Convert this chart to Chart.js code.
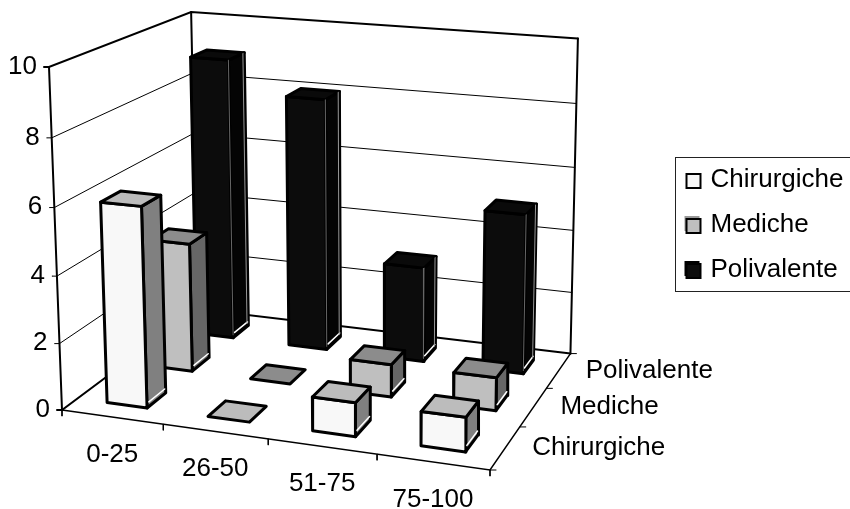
<!DOCTYPE html>
<html>
<head>
<meta charset="utf-8">
<style>
  html, body { margin: 0; padding: 0; background: #fff; }
  canvas { display: block; }
</style>
<script src="https://cdn.jsdelivr.net/npm/chart.js@4"></script>
</head>
<body>
<canvas id="chart" width="850" height="509"></canvas>
<script>
const categories = ['0-25', '26-50', '51-75', '75-100'];
const seriesNames = ['Chirurgiche', 'Mediche', 'Polivalente'];
const chirurgiche = [6, 0, 1, 1];
const mediche = [4, 0, 1, 1];
const polivalente = [9, 8, 3, 5];
const valueTicks = [0, 2, 4, 6, 8, 10];

const seriesValues = [chirurgiche, mediche, polivalente];
// front, side, top
const seriesColors = [
    ['#f8f8f8', '#808080', '#bcbcbc'],
    ['#bfbfbf', '#666666', '#8c8c8c'],
    ['#0c0c0c', '#040404', '#0a0a0a']
];
const labelFont = '26px "Liberation Sans"';

// perspective camera of the 3D box, u = category, w = series, v = value
function project(u, w, v) {
    const U = u / categories.length, W = w / seriesNames.length, V = v / 10;
    const d = 1 - 0.07 * U + 0.1625 * W - 0.04 * V;
    return {
        x: (62 + 393.7 * U + 167.5 * W - 14.96 * V) / d,
        y: (410 + 27.1 * U - 50.8 * W - 345.7 * V) / d
    };
}

const datasets = [];

function addLine(points, color, width) {
    datasets.push({
        data: points,
        showLine: true,
        fill: false,
        borderColor: color,
        borderWidth: width,
        pointRadius: 0,
        tension: 0,
        clip: false,
        borderCapStyle: 'round'
    });
}

function addFace(points, color, width) {
    datasets.push({
        data: points.concat([points[0], points[1]]),
        showLine: true,
        fill: 'shape',
        backgroundColor: color,
        borderColor: '#000',
        borderWidth: width,
        pointRadius: 0,
        tension: 0,
        clip: false,
        borderJoinStyle: 'round'
    });
}

// walls and floor
const maxU = categories.length, maxW = seriesNames.length;
valueTicks.forEach(v => {
    const a = project(0, 0, v);
    const edge = v === 0 ? 2 : v === 10 ? 2 : 1;
    addLine([{x: a.x - 5, y: a.y}, a, project(0, maxW, v), project(maxU, maxW, v)], '#000', edge);
});
addLine([project(0, 0, 0), project(0, 0, 10)], '#000', 2);
addLine([project(0, maxW, 0), project(0, maxW, 10)], '#000', 2);
addLine([project(maxU, maxW, 0), project(maxU, maxW, 10)], '#000', 2);
addLine([project(0, 0, 0), project(maxU, 0, 0), project(maxU, maxW, 0)], '#000', 1.5);
for (let i = 0; i <= maxU; i++) {
    const a = project(i, 0, 0);
    addLine([a, {x: a.x, y: a.y + 6}], '#000', 1);
}
for (let s = 0; s <= maxW; s++) {
    const a = project(maxU, s, 0);
    addLine([a, {x: a.x + 6, y: a.y}], '#000', 1);
}

// bars, back row first
for (let s = maxW - 1; s >= 0; s--) {
    seriesValues[s].forEach((value, i) => {
        const u1 = i + 0.3, u2 = i + 0.7, w1 = s + 0.3, w2 = s + 0.7;
        const [front, side, top] = seriesColors[s];
        if (value > 0) {
            addFace([project(u2, w1, 0), project(u2, w2, 0), project(u2, w2, value), project(u2, w1, value)], side, 3);
            addFace([project(u1, w1, 0), project(u2, w1, 0), project(u2, w1, value), project(u1, w1, value)], front, 3);
        }
        addFace([project(u1, w1, value), project(u2, w1, value), project(u2, w2, value), project(u1, w2, value)], top, 3);
        if (value > 0) {
            addLine([project(u2, w1 + 0.04, 0.14), project(u2, w2 - 0.02, 0.14)], '#fff', 1.5);
        }
        if (s === 2) {
            addLine([project(u2, w1, value), project(u2, w1, 0.1)], '#666', 1);
            addLine([project(u2, w2 - 0.035, value), project(u2, w2 - 0.035, 0.1)], '#999', 1);
        }
    });
}
datasets.reverse();

// legend keys with their small offset shadow
function legendKey(s) {
    const c = document.createElement('canvas');
    c.width = 24;
    c.height = 24;
    const g = c.getContext('2d');
    if (s > 0) {
        g.fillStyle = s === 1 ? '#999' : '#000';
        g.fillRect(5, 3, 15, 15);
    }
    g.fillStyle = seriesColors[s][0];
    g.strokeStyle = '#000';
    g.lineWidth = 2;
    g.fillRect(7, 6, 14, 14);
    g.strokeRect(7, 6, 14, 14);
    return c;
}

const boxLabels = {
    id: 'boxLabels',
    beforeDraw(chart) {
        chart.legend.left = 666.5;
        chart.legend.top = 148;
        const g = chart.ctx;
        g.save();
        g.strokeStyle = '#222';
        g.lineWidth = 1;
        g.strokeRect(675.5, 157.5, 180, 134);
        g.restore();
    },
    afterDraw(chart) {
        const {ctx: g, scales: {x, y}} = chart;
        g.save();
        g.font = labelFont;
        g.fillStyle = '#000';
        g.textBaseline = 'middle';
        g.textAlign = 'right';
        valueTicks.forEach(v => {
            const p = project(0, 0, v);
            g.fillText(String(v), x.getPixelForValue(p.x) - 12, y.getPixelForValue(p.y) - 0.5);
        });
        g.textAlign = 'center';
        categories.forEach((c, i) => {
            const p = project(i + 0.5, 0, 0);
            g.fillText(c, x.getPixelForValue(p.x), y.getPixelForValue(p.y) + 37.5);
        });
        g.textAlign = 'left';
        seriesNames.forEach((n, s) => {
            const p = project(maxU, s + 0.5, 0);
            g.fillText(n, x.getPixelForValue(p.x) + 27, y.getPixelForValue(p.y));
        });
        g.restore();
    }
};

new Chart(document.getElementById('chart'), {
    type: 'scatter',
    data: { datasets: datasets },
    options: {
        responsive: false,
        animation: false,
        layout: { padding: 0 },
        events: [],
        plugins: {
            tooltip: { enabled: false },
            title: { display: false },
            legend: {
                display: true,
                position: 'chartArea',
                align: 'start',
                labels: {
                    usePointStyle: true,
                    boxWidth: 12,
                    boxHeight: 12,
                    padding: 19,
                    color: '#000',
                    font: { family: '"Liberation Sans"', size: 26 },
                    generateLabels: () => seriesNames.map((name, s) => ({
                        text: name,
                        pointStyle: legendKey(s),
                        fillStyle: seriesColors[s][0],
                        strokeStyle: '#000',
                        lineWidth: 2,
                        hidden: false
                    }))
                }
            }
        },
        scales: {
            x: { type: 'linear', display: false, min: 0, max: 850 },
            y: { type: 'linear', display: false, min: 0, max: 509, reverse: true }
        }
    },
    plugins: [boxLabels]
});
</script>
</body>
</html>
